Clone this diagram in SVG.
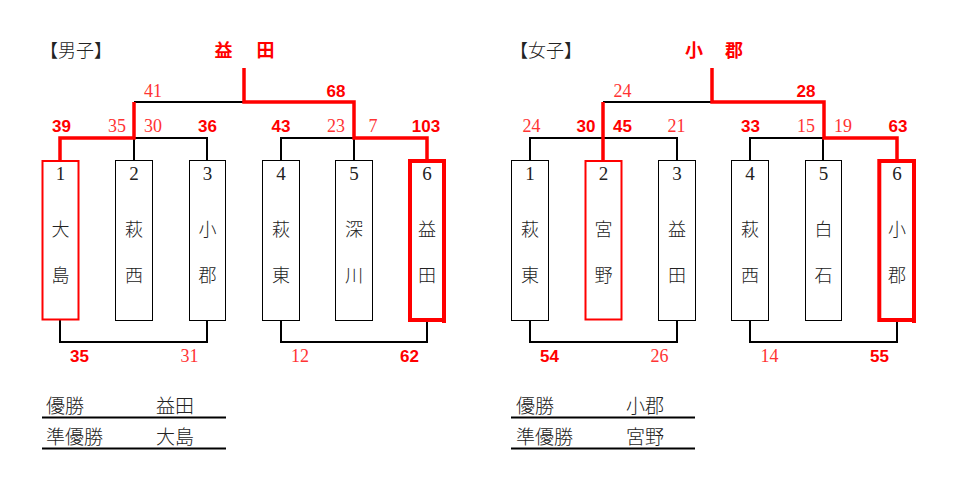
<svg xmlns="http://www.w3.org/2000/svg" width="959" height="493" viewBox="0 0 959 493">
<style>
.box{fill:#fff;stroke:#000;stroke-width:1}
.win1{fill:#fff;stroke:#f00;stroke-width:2}
.win2{fill:#fff;stroke:#f00;stroke-width:4}
.bl{fill:none;stroke:#000;stroke-width:2}
.rd{fill:none;stroke:#f00;stroke-width:3.5}
.num{font-family:"Liberation Serif",serif;font-size:19px;fill:#222;text-anchor:middle}
.nm{font-family:"Noto Sans CJK JP",sans-serif;font-size:18px;font-weight:300;fill:#222;text-anchor:middle}
.lt{font-family:"Liberation Serif",serif;font-size:18px;fill:#f33;text-anchor:middle}
.bd{font-family:"Liberation Sans",sans-serif;font-size:17px;font-weight:bold;fill:#f00;text-anchor:middle}
.ttl{font-family:"Noto Sans CJK JP",sans-serif;font-size:18px;font-weight:bold;fill:#f00;text-anchor:middle}
.hd{font-family:"Noto Sans CJK JP",sans-serif;font-size:18px;font-weight:300;fill:#222}
.res{font-family:"Noto Sans CJK JP",sans-serif;font-size:19px;font-weight:300;fill:#222}
</style>

<g id="men-header">
<text class="hd" x="40" y="57">【男子】</text>
<text class="ttl" x="223.5" y="57">益</text>
<text class="ttl" x="265.5" y="57">田</text>
</g>
<g id="women-header">
<text class="hd" x="510" y="57">【女子】</text>
<text class="ttl" x="694" y="57">小</text>
<text class="ttl" x="734" y="57">郡</text>
</g>

<g id="connectors">
<!-- men -->
<path class="bl" d="M134,161 V138 H207 V161"/>
<path class="bl" d="M281,161 V138 H354 V161"/>
<path class="bl" d="M134,102 H244"/>
<path class="bl" d="M60,320 V342 H207 V320"/>
<path class="bl" d="M281,320 V342 H427 V320"/>
<path class="rd" d="M60,161 V138 H134 V102"/>
<path class="rd" d="M244,68 V102 H354 V138 H427 V161"/>
<!-- women -->
<path class="bl" d="M530,161 V138 H677 V161"/>
<path class="bl" d="M750,161 V138 H823 V161"/>
<path class="bl" d="M603,102 H712"/>
<path class="bl" d="M530,320 V342 H677 V320"/>
<path class="bl" d="M750,320 V342 H897 V320"/>
<path class="rd" d="M603,161 V102"/>
<path class="rd" d="M712,68 V102 H824 V138 H897 V161"/>
</g>

<!-- men nodes -->
<g id="m1"><rect class="win1" x="42.5" y="161" width="36" height="158.5"/><text class="num" x="60.5" y="180">1</text><text class="nm" x="60.5" y="236">大</text><text class="nm" x="60.5" y="282">島</text></g>
<g id="m2"><rect class="box" x="115.5" y="160.5" width="37" height="160"/><text class="num" x="134" y="180">2</text><text class="nm" x="134" y="236">萩</text><text class="nm" x="134" y="282">西</text></g>
<g id="m3"><rect class="box" x="189.5" y="160.5" width="36" height="160"/><text class="num" x="207.5" y="180">3</text><text class="nm" x="207.5" y="236">小</text><text class="nm" x="207.5" y="282">郡</text></g>
<g id="m4"><rect class="box" x="262.5" y="160.5" width="37" height="160"/><text class="num" x="281" y="180">4</text><text class="nm" x="281" y="236">萩</text><text class="nm" x="281" y="282">東</text></g>
<g id="m5"><rect class="box" x="335.5" y="160.5" width="37" height="160"/><text class="num" x="354" y="180">5</text><text class="nm" x="354" y="236">深</text><text class="nm" x="354" y="282">川</text></g>
<g id="m6"><rect class="win2" x="410" y="161" width="34" height="159"/><path d="M444,320 V323" stroke="#f00" stroke-width="4"/><text class="num" x="427" y="180">6</text><text class="nm" x="427" y="236">益</text><text class="nm" x="427" y="282">田</text></g>

<!-- women nodes -->
<g id="w1"><rect class="box" x="511.5" y="160.5" width="37" height="160"/><text class="num" x="530" y="180">1</text><text class="nm" x="530" y="236">萩</text><text class="nm" x="530" y="282">東</text></g>
<g id="w2"><rect class="win1" x="585.5" y="161" width="36" height="158.5"/><text class="num" x="603.5" y="180">2</text><text class="nm" x="603.5" y="236">宮</text><text class="nm" x="603.5" y="282">野</text></g>
<g id="w3"><rect class="box" x="658.5" y="160.5" width="37" height="160"/><text class="num" x="677" y="180">3</text><text class="nm" x="677" y="236">益</text><text class="nm" x="677" y="282">田</text></g>
<g id="w4"><rect class="box" x="731.5" y="160.5" width="37" height="160"/><text class="num" x="750" y="180">4</text><text class="nm" x="750" y="236">萩</text><text class="nm" x="750" y="282">西</text></g>
<g id="w5"><rect class="box" x="805.5" y="160.5" width="36" height="160"/><text class="num" x="823.5" y="180">5</text><text class="nm" x="823.5" y="236">白</text><text class="nm" x="823.5" y="282">石</text></g>
<g id="w6"><rect class="win2" x="879.3" y="161" width="34.7" height="159"/><path d="M914,320 V323" stroke="#f00" stroke-width="4"/><text class="num" x="897" y="180">6</text><text class="nm" x="897" y="236">小</text><text class="nm" x="897" y="282">郡</text></g>

<g id="men-scores">
<text class="lt" x="153" y="97">41</text>
<text class="bd" x="336" y="97">68</text>
<text class="bd" x="61.5" y="132">39</text>
<text class="lt" x="117" y="132">35</text>
<text class="lt" x="153" y="132">30</text>
<text class="bd" x="207.5" y="132">36</text>
<text class="bd" x="281" y="132">43</text>
<text class="lt" x="336" y="132">23</text>
<text class="lt" x="373" y="132">7</text>
<text class="bd" x="426" y="132">103</text>
<text class="bd" x="79.5" y="362">35</text>
<text class="lt" x="189.5" y="362">31</text>
<text class="lt" x="300" y="362">12</text>
<text class="bd" x="409.5" y="362">62</text>
</g>
<g id="women-scores">
<text class="lt" x="622.5" y="97">24</text>
<text class="bd" x="806" y="97">28</text>
<text class="lt" x="531.5" y="132">24</text>
<text class="bd" x="586" y="132">30</text>
<text class="bd" x="622.5" y="132">45</text>
<text class="lt" x="676.5" y="132">21</text>
<text class="bd" x="750.5" y="132">33</text>
<text class="lt" x="806" y="132">15</text>
<text class="lt" x="843" y="132">19</text>
<text class="bd" x="898" y="132">63</text>
<text class="bd" x="549.5" y="362">54</text>
<text class="lt" x="659.5" y="362">26</text>
<text class="lt" x="769.5" y="362">14</text>
<text class="bd" x="879.5" y="362">55</text>
</g>

<g id="men-result">
<text class="res" x="46" y="413">優勝</text>
<text class="res" x="156" y="413">益田</text>
<path class="bl" d="M42,417.5 H226"/>
<text class="res" x="46" y="444">準優勝</text>
<text class="res" x="156" y="444">大島</text>
<path class="bl" d="M42,448.5 H226"/>
</g>
<g id="women-result">
<text class="res" x="516" y="413">優勝</text>
<text class="res" x="626" y="413">小郡</text>
<path class="bl" d="M511,417.5 H695"/>
<text class="res" x="516" y="444">準優勝</text>
<text class="res" x="626" y="444">宮野</text>
<path class="bl" d="M511,448.5 H695"/>
</g>
</svg>
